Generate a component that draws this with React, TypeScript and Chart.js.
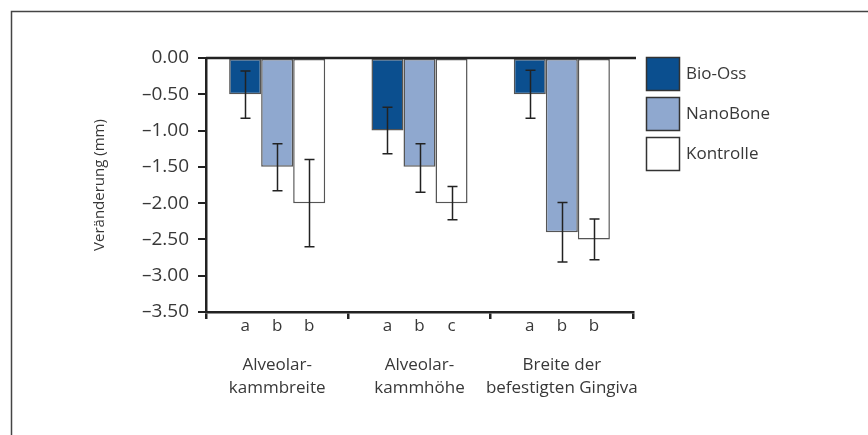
import React, { useEffect, useRef } from "react";
import { Chart, registerables } from "chart.js";

Chart.register(...registerables);

const categories: string[][] = [
  ["Alveolar-", "kammbreite"],
  ["Alveolar-", "kammhöhe"],
  ["Breite der", "befestigten Gingiva"],
];
const seriesNames = ["Bio-Oss", "NanoBone", "Kontrolle"];
const bioOss = [-0.5, -1.0, -0.5];
const nanoBone = [-1.5, -1.5, -2.4];
const kontrolle = [-2.0, -2.0, -2.5];
// error bar ends (values)
const bioOssErrTop = [-0.18, -0.68, -0.17];
const bioOssErrBottom = [-0.83, -1.32, -0.83];
const nanoBoneErrTop = [-1.18, -1.18, -1.99];
const nanoBoneErrBottom = [-1.83, -1.85, -2.81];
const kontrolleErrTop = [-1.4, -1.77, -2.22];
const kontrolleErrBottom = [-2.6, -2.23, -2.78];
const bioOssLetters = ["a", "a", "a"];
const nanoBoneLetters = ["b", "b", "b"];
const kontrolleLetters = ["b", "c", "b"];
const yTicksMin = -3.5;
const yTicksMax = 0;
const yStep = 0.5;

const FONT = "'Open Sans', sans-serif";
const TEXT = "#383838";
const colors = ["#0b4f8f", "#8fa8cf", "#ffffff"];

export default function App() {
  const ref = useRef<HTMLCanvasElement>(null);
  useEffect(() => {
    document.body.style.margin = "0";
    const errTops = [bioOssErrTop, nanoBoneErrTop, kontrolleErrTop];
    const errBottoms = [bioOssErrBottom, nanoBoneErrBottom, kontrolleErrBottom];
    const letters = [bioOssLetters, nanoBoneLetters, kontrolleLetters];

    const custom = {
      id: "custom",
      beforeDraw(chart: any) {
        const ctx = chart.ctx;
        ctx.save();
        ctx.strokeStyle = "#444";
        ctx.lineWidth = 1.5;
        ctx.beginPath();
        ctx.moveTo(11.5, 440);
        ctx.lineTo(11.5, 11.5);
        ctx.lineTo(870, 11.5);
        ctx.stroke();
        ctx.restore();
      },
      afterDatasetsDraw(chart: any) {
        const ctx = chart.ctx;
        const y = chart.scales.y;
        const area = chart.chartArea;
        ctx.save();
        // error bars
        ctx.strokeStyle = "#222";
        ctx.lineWidth = 1.5;
        for (let d = 0; d < 3; d++) {
          const meta = chart.getDatasetMeta(d);
          meta.data.forEach((bar: any, i: number) => {
            const x = Math.round(bar.x) + 0.5;
            const y1 = y.getPixelForValue(errTops[d][i]);
            const y2 = y.getPixelForValue(errBottoms[d][i]);
            ctx.beginPath();
            ctx.moveTo(x, y1);
            ctx.lineTo(x, y2);
            ctx.moveTo(x - 5, y1);
            ctx.lineTo(x + 5, y1);
            ctx.moveTo(x - 5, y2);
            ctx.lineTo(x + 5, y2);
            ctx.stroke();
          });
        }
        // zero line
        const y0 = y.getPixelForValue(0);
        ctx.strokeStyle = "#222";
        ctx.lineWidth = 2.5;
        ctx.beginPath();
        ctx.moveTo(area.left, y0);
        ctx.lineTo(area.right + 3, y0);
        ctx.stroke();
        // letters
        ctx.fillStyle = TEXT;
        ctx.font = `17px ${FONT}`;
        ctx.textAlign = "center";
        ctx.textBaseline = "middle";
        for (let d = 0; d < 3; d++) {
          const meta = chart.getDatasetMeta(d);
          meta.data.forEach((bar: any, i: number) => {
            ctx.fillText(letters[d][i], bar.x, area.bottom + 14);
          });
        }
        // legend
        const bx = 646;
        const by = [57, 97, 137];
        const size = 33;
        ctx.textAlign = "left";
        chart.data.datasets.forEach((ds: any, i: number) => {
          ctx.fillStyle = ds.backgroundColor;
          ctx.fillRect(bx, by[i], size, size);
          ctx.strokeStyle = "#333";
          ctx.lineWidth = 1.5;
          ctx.strokeRect(bx + 0.5, by[i] + 0.5, size, size);
          ctx.fillStyle = TEXT;
          ctx.font = `17px ${FONT}`;
          ctx.fillText(ds.label, 686, by[i] + size / 2 + 1);
        });
        ctx.restore();
      },
    };

    const chart = new Chart(ref.current!, {
      type: "bar",
      data: {
        labels: categories,
        datasets: [bioOss, nanoBone, kontrolle].map((vals, i) => ({
          label: seriesNames[i],
          data: vals,
          backgroundColor: colors[i],
          borderColor: "#555",
          borderWidth: 1.5,
          borderSkipped: false,
          categoryPercentage: 0.675,
          barPercentage: 1.0,
        })),
      },
      options: {
        responsive: false,
        animation: false,
        layout: { padding: { left: 90, right: 235, top: 58, bottom: 0 } },
        plugins: {
          legend: { display: false },
          tooltip: { enabled: false },
        },
        scales: {
          x: {
            afterFit: (s: any) => {
              s.height = 123;
            },
            grid: {
              offset: true,
              drawOnChartArea: false,
              tickLength: 7,
              tickColor: "#222",
              lineWidth: 2.5,
            },
            border: { color: "#222", width: 2.5 },
            ticks: {
              color: TEXT,
              font: { family: FONT, size: 17, lineHeight: 1.35 },
              padding: 35,
              maxRotation: 0,
              autoSkip: false,
            },
          },
          y: {
            min: yTicksMin,
            max: yTicksMax,
            afterFit: (s: any) => {
              s.width = 116;
            },
            grid: {
              drawOnChartArea: false,
              tickLength: 8,
              tickColor: "#222",
              lineWidth: 2,
            },
            border: { color: "#222", width: 2.5 },
            ticks: {
              stepSize: yStep,
              color: TEXT,
              font: { family: FONT, size: 19 },
              padding: 9,
              callback: (v: any) => {
                const n = Number(v);
                return n === 0 ? "0.00" : "–" + Math.abs(n).toFixed(2);
              },
            },
            title: {
              display: true,
              text: "Veränderung (mm)",
              color: TEXT,
              font: { family: FONT, size: 15 },
              padding: { top: 1, bottom: 0 },
            },
          },
        },
      },
      plugins: [custom],
    });
    return () => chart.destroy();
  }, []);
  return <canvas ref={ref} width={868} height={435} style={{ display: "block" }} />;
}
